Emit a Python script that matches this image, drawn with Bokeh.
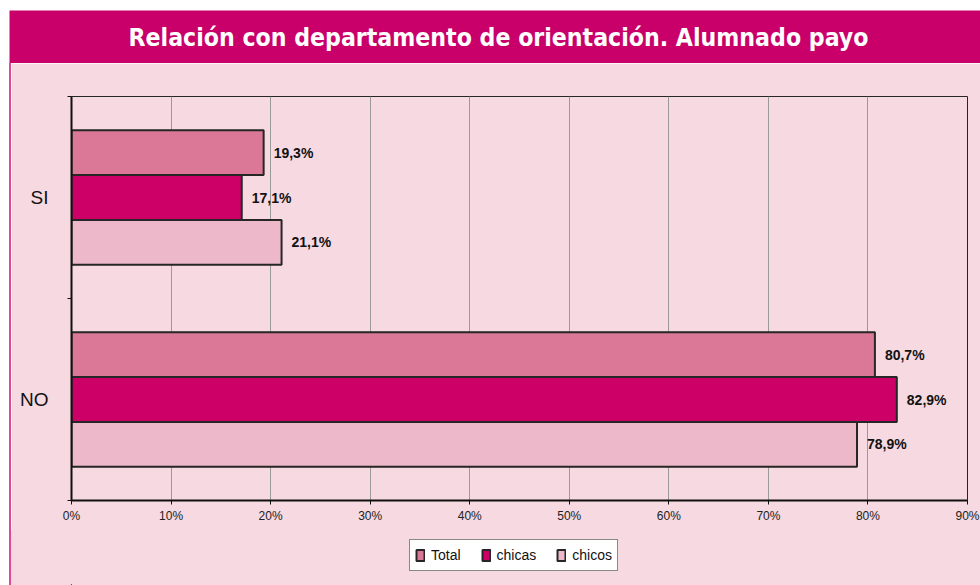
from bokeh.plotting import figure
from bokeh.models import (Range1d, FixedTicker, ColumnDataSource, LabelSet, Legend, LegendItem,
                          Spacer)
from bokeh.layouts import column, row
from bokeh.transform import dodge
from bokeh.core.properties import value
from bokeh.embed import file_html
from bokeh.resources import INLINE

# ---- data ----
categories = ["SI", "NO"]
total = [19.3, 80.7]
chicas = [17.1, 82.9]
chicos = [21.1, 78.9]
series_names = ["Total", "chicas", "chicos"]
x_ticks = [0, 10, 20, 30, 40, 50, 60, 70, 80, 90]
x_tick_labels = ["0%", "10%", "20%", "30%", "40%", "50%", "60%", "70%", "80%", "90%"]
title_text = "Relación con departamento de orientación. Alumnado payo"

# ---- styles ----
BG = "#F6D9E1"
MAG = "#C9006A"
COLORS = ["#DB7897", "#CC0066", "#ECB8CA"]
EDGE = "#262626"

n = len(categories)
ypos = [n - i - 0.5 for i in range(n)]  # SI on top

# title band
tfig = figure(width=971, height=53, x_range=(0, 1), y_range=(0, 1), toolbar_location=None,
              output_backend="svg", min_border=0, background_fill_color=MAG,
              border_fill_color=MAG, outline_line_color=None,
              x_axis_type=None, y_axis_type=None)
tfig.grid.visible = False
tfig.text(x=[0.5036], y=[0.5], text=[title_text], text_align="center", text_baseline="middle",
          text_color="white", text_font=value("DejaVu Sans Condensed"), text_font_style="bold",
          text_font_size="24.6px")

# main chart
p = figure(width=969, height=467, frame_width=896, frame_height=404,
           x_range=Range1d(0, 90), y_range=Range1d(0, n), toolbar_location=None,
           output_backend="svg", background_fill_color=BG, border_fill_color=BG,
           min_border_left=60, min_border_right=13, min_border_top=33, min_border_bottom=30,
           outline_line_color=EDGE, outline_line_width=1)

src = ColumnDataSource(dict(y=ypos, cat=categories, total=total, chicas=chicas, chicos=chicos,
                            total_l=[f"{v:.1f}".replace(".", ",") + "%" for v in total],
                            chicas_l=[f"{v:.1f}".replace(".", ",") + "%" for v in chicas],
                            chicos_l=[f"{v:.1f}".replace(".", ",") + "%" for v in chicos]))

offsets = [0.222, 0.0, -0.222]
keys = ["total", "chicas", "chicos"]
for key, off, col in zip(keys, offsets, COLORS):
    p.hbar(y=dodge("y", off), right=key, left=0, height=0.222, source=src,
           fill_color=col, line_color=EDGE, line_width=2)
    lbl = LabelSet(x=key, y=dodge("y", off), text=key + "_l", source=src, x_offset=10,
                   text_baseline="middle", text_font=value("Liberation Sans"),
                   text_font_style="bold", text_font_size="14px", text_color="#111111")
    p.add_layout(lbl)

# axes
p.xaxis.ticker = FixedTicker(ticks=x_ticks)
p.xaxis.major_label_overrides = {t: l for t, l in zip(x_ticks, x_tick_labels)}
p.xaxis.axis_line_width = 2
p.xaxis.axis_line_color = "#111111"
p.xaxis.major_tick_out = 4
p.xaxis.major_tick_in = 0
p.xaxis.major_tick_line_color = "#111111"
p.xaxis.minor_tick_line_color = None
p.xaxis.major_label_text_font = "Liberation Sans"
p.xaxis.major_label_text_font_size = "12px"
p.xaxis.major_label_text_color = "#222222"
p.xaxis.major_label_standoff = 4

p.yaxis.ticker = FixedTicker(ticks=ypos, minor_ticks=[0, 1, 2])
p.yaxis.major_label_overrides = {y: c for y, c in zip(ypos, categories)}
p.yaxis.axis_line_width = 2
p.yaxis.axis_line_color = "#111111"
p.yaxis.major_tick_line_color = None
p.yaxis.minor_tick_out = 4
p.yaxis.minor_tick_in = 0
p.yaxis.minor_tick_line_color = "#111111"
p.yaxis.major_label_text_font = "Liberation Sans"
p.yaxis.major_label_text_font_size = "19px"
p.yaxis.major_label_text_color = "#111111"
p.yaxis.major_label_standoff = 17

p.xgrid.grid_line_color = "#9A9A9A"
p.xgrid.grid_line_width = 1
p.ygrid.grid_line_color = None

# legend strip (own small figure so the legend box is not clipped by the chart frame);
# its swatches reuse the same data, drawn far outside this strip's visible range
lfig = figure(width=969, height=55, x_range=(1000, 1001), y_range=(1000, 1001),
              toolbar_location=None, output_backend="svg", min_border=0,
              background_fill_alpha=0, border_fill_alpha=0, outline_line_color=None,
              x_axis_type=None, y_axis_type=None, styles={"background-color": BG})
lfig.grid.visible = False
leg_renderers = [lfig.hbar(y="y", right=key, left=0, height=0.2, source=src,
                           fill_color=col, line_color=EDGE, line_width=2)
                 for key, col in zip(keys, COLORS)]
legend = Legend(items=[LegendItem(label=nm, renderers=[r], index=0)
                       for nm, r in zip(series_names, leg_renderers)],
                location=(338, 14), orientation="horizontal",
                background_fill_color="white", background_fill_alpha=1,
                border_line_color="#111111", border_line_width=1,
                label_text_font="Liberation Sans", label_text_font_size="14px",
                label_text_color="#111111", glyph_width=10, glyph_height=14,
                label_standoff=6, spacing=20, padding=5, margin=0, label_height=20)
lfig.add_layout(legend, "center")

left_line = Spacer(width=2, height=522, styles={"background-color": "#E0489A"})
layout = row(Spacer(width=9, height=585),
             column(Spacer(width=971, height=10), tfig,
                    row(left_line, column(p, lfig))))

open("out.html", "w").write(file_html(layout, INLINE))
